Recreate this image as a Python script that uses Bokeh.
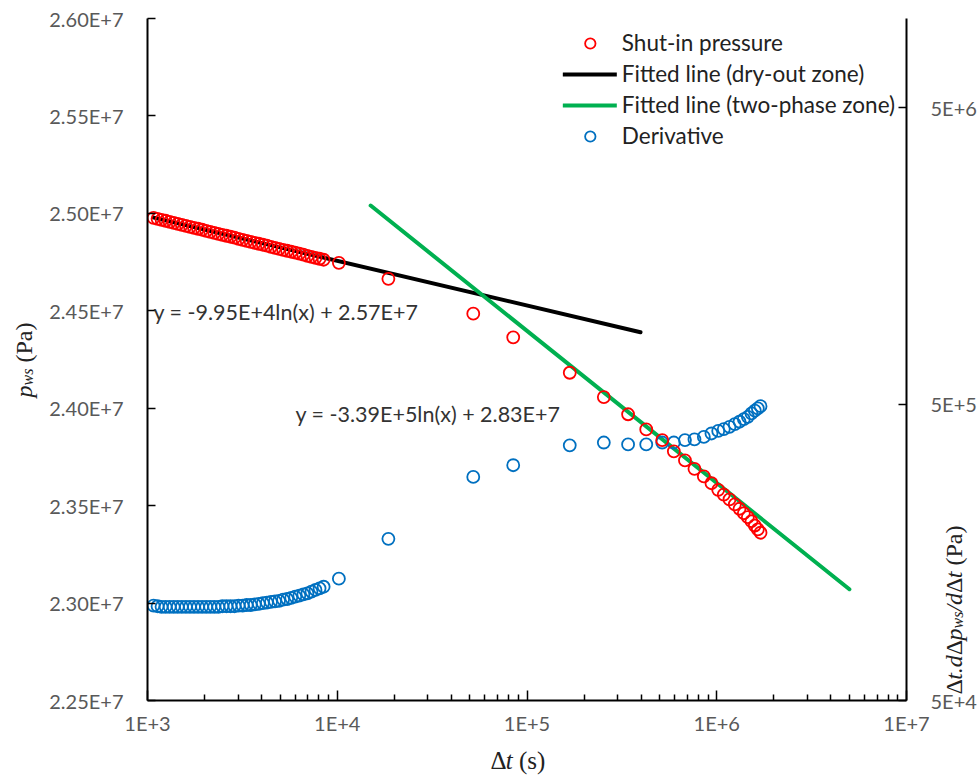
import math
from bokeh.plotting import figure
from bokeh.models import (Range1d, LogScale, LogAxis, FixedTicker, CustomJSTickFormatter,
                          Label, Legend, LegendItem, ColumnDataSource, GridBox, Column)
from bokeh.embed import file_html
from bokeh.resources import INLINE

# ---------------- data ----------------
dt_s = [1076, 1130, 1186, 1246, 1309, 1375, 1444, 1517, 1594, 1674, 1758, 1847, 1940, 2038,
        2140, 2248, 2361, 2480, 2605, 2736, 2874, 3019, 3171, 3331, 3499, 3675, 3860, 4054,
        4258, 4473, 4698, 4935, 5183, 5444, 5719, 6007, 6310, 6628, 6961, 7312, 7680, 8067,
        8474,
        10200, 18600, 52100, 84600, 168000, 254000, 341000, 425000, 516000, 594000, 680000,
        763000, 855000, 938000, 1018000, 1089000, 1167000, 1245000, 1318000, 1389000,
        1458000, 1524000, 1587000, 1646000, 1701000]

p_ws = [24977000, 24972000, 24967000, 24962000, 24956000, 24951000, 24946000, 24941000,
        24936000, 24931000, 24926000, 24921000, 24916000, 24910000, 24905000, 24900000,
        24895000, 24890000, 24885000, 24880000, 24875000, 24869000, 24864000, 24859000,
        24854000, 24849000, 24844000, 24839000, 24834000, 24828000, 24823000, 24818000,
        24813000, 24808000, 24803000, 24798000, 24793000, 24788000, 24782000, 24777000,
        24772000, 24767000, 24762000,
        24746000, 24664000, 24485000, 24364000, 24182000, 24057000, 23969000, 23891000,
        23836000, 23779000, 23732000, 23689000, 23650000, 23615000, 23581000, 23557000,
        23532000, 23506000, 23484000, 23461000, 23441000, 23420000, 23398000, 23378000,
        23361000]

deriv = [104500, 104000, 103500, 103500, 103500, 103500, 103500, 103500, 103500, 103500,
         103500, 103500, 103500, 103500, 103500, 103500, 103500, 104000, 104000, 104000,
         104000, 104500, 104500, 105000, 105000, 105500, 106000, 106500, 107000, 107500,
         108000, 108500, 109500, 110000, 111000, 112000, 113000, 114000, 115000, 116500,
         118000, 119500, 121000,
         128800, 175600, 284000, 311000, 363000, 371000, 365500, 365500, 371000, 371000,
         378000, 380000, 387500, 398000, 406000, 412000, 419000, 428000, 436000, 445000,
         453000, 465000, 475000, 484000, 492000]

dry_x = [1080, 396500]
dry_y = [24978000, 24390000]
two_x = [15000, 5000000]
two_y = [25040000, 23071000]

x_ticks = [1e3, 1e4, 1e5, 1e6, 1e7]
y_ticks = [22500000, 23000000, 23500000, 24000000, 24500000, 25000000, 25500000, 26000000]
y2_ticks = [5e4, 5e5, 5e6]

series_names = ["Shut-in pressure", "Fitted line (dry-out zone)",
                "Fitted line (two-phase zone)", "Derivative"]
eq_dry = "y = -9.95E+4ln(x) + 2.57E+7"
eq_two = "y = -3.39E+5ln(x) + 2.83E+7"

# ---------------- figure ----------------
W, H = 979, 777
p = figure(width=W, height=H, x_axis_type="log",
           x_range=Range1d(1e3, 1e7), y_range=Range1d(2.25e7, 2.6e7),
           output_backend="svg", toolbar_location=None,
           min_border_left=147, min_border_right=73, min_border_top=18, min_border_bottom=77)
p.outline_line_color = None
p.xgrid.visible = False
p.ygrid.visible = False
p.background_fill_color = None
p.border_fill_color = None

p.extra_y_ranges = {"d": Range1d(5e4, 1e7)}
p.extra_y_scales = {"d": LogScale()}
raxis = LogAxis(y_range_name="d")
p.add_layout(raxis, "right")

minor_x = [m * 10 ** e for e in range(3, 7) for m in range(2, 10)]
xax = p.xaxis[0]
xax.ticker = FixedTicker(ticks=x_ticks, minor_ticks=minor_x)
xax.formatter = CustomJSTickFormatter(code='return "1E+" + Math.round(Math.log10(tick));')
yax = p.yaxis[0]
yax.ticker = FixedTicker(ticks=y_ticks)
yax.formatter = CustomJSTickFormatter(code='return (tick/1e7).toFixed(2) + "E+7";')
raxis.ticker = FixedTicker(ticks=y2_ticks)
raxis.formatter = CustomJSTickFormatter(code='return "5E+" + Math.round(Math.log10(tick/5));')

for ax in (xax, yax, raxis):
    ax.axis_line_color = "black"
    ax.axis_line_width = 2
    ax.major_tick_line_color = "black"
    ax.major_tick_line_width = 1.5
    ax.major_tick_in = 8
    ax.major_tick_out = 0
    ax.minor_tick_line_color = None
    ax.major_label_text_font = "Lato"
    ax.major_label_text_font_size = "20px"
    ax.major_label_text_color = "#595959"
    ax.axis_label = None
xax.minor_tick_line_color = "black"
xax.minor_tick_line_width = 1.5
xax.minor_tick_in = 6
xax.minor_tick_out = 0
xax.major_tick_in = 10
xax.major_label_standoff = 10
yax.major_label_standoff = 24
raxis.major_label_standoff = 24

# ---------------- glyphs ----------------
src = ColumnDataSource(dict(dt=dt_s, p=p_ws, d=deriv))
r_black = p.line(dry_x, dry_y, line_color="black", line_width=4, line_cap="round")
r_green = p.line(two_x, two_y, line_color="#00B050", line_width=4, line_cap="round")
r_blue = p.scatter("dt", "d", source=src, y_range_name="d", marker="circle", size=12,
                   fill_color=None, line_color="#0070C0", line_width=1.8)
r_red = p.scatter("dt", "p", source=src, marker="circle", size=12,
                  fill_color=None, line_color="#FF0000", line_width=1.8)

legend = Legend(items=[LegendItem(label=series_names[0], renderers=[r_red]),
                       LegendItem(label=series_names[1], renderers=[r_black]),
                       LegendItem(label=series_names[2], renderers=[r_green]),
                       LegendItem(label=series_names[3], renderers=[r_blue])],
                location="top_right", margin=11, padding=0, spacing=4,
                glyph_width=54, glyph_height=26, label_height=26, label_standoff=5,
                label_text_font="Lato", label_text_font_size="22.5px",
                label_text_color="#222222", background_fill_alpha=0,
                border_line_alpha=0)
p.add_layout(legend, "center")

# equations
for txt, x0, y0 in ((eq_dry, 153, 311), (eq_two, 295, 413)):
    p.add_layout(Label(x=x0, y=y0, x_units="canvas", y_units="canvas", text=txt,
                       text_font="Lato", text_font_size="21.5px", text_color="#333333",
                       text_baseline="middle", text_align="left"))

# ---------------- overlay canvas for the axis titles (mixed styles) ----------------
q = figure(width=W, height=H, x_range=Range1d(0, W), y_range=Range1d(H, 0),
           output_backend="svg", toolbar_location=None,
           x_axis_location=None, y_axis_location=None,
           min_border_left=0, min_border_right=0, min_border_top=0, min_border_bottom=0)
q.outline_line_color = None
q.background_fill_color = None
q.border_fill_color = None
for g in q.grid:
    g.visible = False

REG = {" ": 250, "(": 333, ")": 333, "P": 556, "a": 444, "s": 389, ".": 250, "Δ": 612}
ITA = {"t": 278, "p": 500, "w": 667, "s": 389, "d": 500, "/": 278, ".": 250, " ": 250}


def wid(text, style, size):
    tab = ITA if style == "italic" else REG
    return sum(tab.get(c, 500) for c in text) * size / 1000.0


def title(pieces, x0, y0, rotated):
    pos = 0.0
    for text, style, size, shift in pieces:
        lead = len(text) - len(text.lstrip(" "))
        pos += lead * wid(" ", style, size)
        body = text.strip(" ")
        if rotated:
            lab = Label(x=x0 + shift, y=y0 - pos, x_units="canvas", y_units="canvas",
                        angle=math.pi / 2, text=body)
        else:
            lab = Label(x=x0 + pos, y=y0 + shift, x_units="canvas", y_units="canvas",
                        text=body)
        lab.text_font = "Liberation Serif"
        lab.text_font_style = style
        lab.text_font_size = f"{size}px"
        lab.text_color = "#222222"
        lab.text_align = "left"
        lab.text_baseline = "alphabetic"
        q.add_layout(lab)
        pos += wid(body, style, size)


title([("Δ", "normal", 25, 0), ("t", "italic", 25, 0), (" (s)", "normal", 25, 0)],
      490, 760, False)
title([("p", "italic", 24, 0), ("ws", "italic", 16, 4), (" (Pa)", "normal", 24, 0)],
      23, 397, True)
title([("Δ", "normal", 24, 0), ("t.d", "italic", 24, 0), ("Δ", "normal", 24, 0),
       ("p", "italic", 24, 0), ("ws", "italic", 16, 4), ("/d", "italic", 24, 0),
       ("Δ", "normal", 24, 0), ("t", "italic", 24, 0), (" (Pa)", "normal", 24, 0)],
      953, 694, True)

root = GridBox(children=[(p, 0, 0), (Column(children=[q], width=W, height=H), 0, 0)])
open("out.html", "w").write(file_html(root, INLINE))
